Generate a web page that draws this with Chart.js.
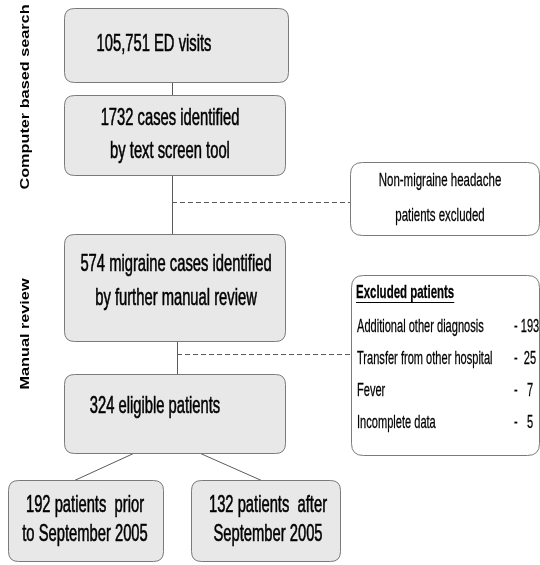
<!DOCTYPE html>
<html>
<head>
<meta charset="utf-8">
<script src="https://cdn.jsdelivr.net/npm/chart.js@4/dist/chart.umd.min.js"></script>
<style>
html,body{margin:0;padding:0;background:#fff;}
#wrap{width:540px;height:565px;}
</style>
</head>
<body>
<div id="wrap"><canvas id="c" width="540" height="565"></canvas></div>
<script>
// ---- data ----
const boxLabels = [
  ["105,751 ED visits"],
  ["1732 cases identified", "by text screen tool"],
  ["574 migraine cases identified", "by further manual review"],
  ["324 eligible patients"],
  ["192 patients  prior", "to September 2005"],
  ["132 patients  after", "September 2005"]
];
const boxLeft   = [64, 64, 64, 64, 8, 191];
const boxRight  = [288, 285, 285, 285, 163, 340];
const boxTop    = [8, 95, 234, 374, 480, 480];
const boxBottom = [82, 175, 341, 453, 561, 561];
const textX     = [154, 170, 176, 155, 85, 268];
const textY     = [[45], [119, 152], [265, 299], [407], [506, 535], [506, 535]];

const sideBoxLabels = ["Non-migraine headache", "patients excluded"];
const sideBox = [350, 539, 162, 235];
const sideTextY = [181, 216];

const exclTitle = "Excluded patients";
const exclReasons = ["Additional other diagnosis", "Transfer from other hospital", "Fever", "Incomplete data"];
const exclCounts = ["- 193", "-  25", "-   7", "-   5"];
const exclBox = [351, 539, 275, 455];
const exclRowY = [327, 359, 391, 423];

const solidLines = [[172, 82, 172, 95], [172, 175, 172, 234], [177, 341, 177, 374], [133, 453, 74, 480], [200, 453, 261, 480]];
const dashedLines = [[172, 202, 350, 202], [177, 354, 351, 354]];

const sideLabels = ["Computer based search", "Manual review"];
const sideLabelY = [97, 334];

// ---- drawing ----
const SANS = '"Liberation Sans", Arial, sans-serif';
const SX = 0.82, SY = 1.3;

function rr(ctx, x0, y0, x1, y1, r) {
  ctx.beginPath();
  ctx.moveTo(x0 + r, y0);
  ctx.lineTo(x1 - r, y0);
  ctx.quadraticCurveTo(x1, y0, x1, y0 + r);
  ctx.lineTo(x1, y1 - r);
  ctx.quadraticCurveTo(x1, y1, x1 - r, y1);
  ctx.lineTo(x0 + r, y1);
  ctx.quadraticCurveTo(x0, y1, x0, y1 - r);
  ctx.lineTo(x0, y0 + r);
  ctx.quadraticCurveTo(x0, y0, x0 + r, y0);
  ctx.closePath();
}
function stext(ctx, t, x, y, sx, sy, sw) {
  ctx.save();
  ctx.translate(x, y);
  ctx.scale(sx, sy);
  ctx.fillText(t, 0, 0);
  if (sw) {
    ctx.lineWidth = sw;
    ctx.strokeStyle = ctx.fillStyle;
    ctx.strokeText(t, 0, 0);
  }
  ctx.restore();
}

const flowPlugin = {
  id: 'flow',
  afterDatasetsDraw(chart) {
    const ctx = chart.ctx;
    const X = v => chart.scales.x.getPixelForValue(v);
    const Y = v => chart.scales.y.getPixelForValue(v);
    ctx.save();
    // connectors
    ctx.strokeStyle = '#5a5a5a';
    ctx.lineWidth = 1;
    solidLines.forEach(l => {
      ctx.beginPath();
      ctx.moveTo(X(l[0]) + 0.5, Y(l[1]) + 0.5);
      ctx.lineTo(X(l[2]) + 0.5, Y(l[3]) + 0.5);
      ctx.stroke();
    });
    ctx.setLineDash([5, 3]);
    dashedLines.forEach(l => {
      ctx.beginPath();
      ctx.moveTo(X(l[0]), Y(l[1]) + 0.5);
      ctx.lineTo(X(l[2]), Y(l[3]) + 0.5);
      ctx.stroke();
    });
    ctx.setLineDash([]);
    // main boxes
    boxLabels.forEach((lines, i) => {
      ctx.lineWidth = 1;
      rr(ctx, X(boxLeft[i]) + 0.5, Y(boxTop[i]) + 0.5, X(boxRight[i]) + 0.5, Y(boxBottom[i]) + 0.5, 10);
      ctx.fillStyle = '#e8e8e8';
      ctx.fill();
      ctx.strokeStyle = '#7a7a7a';
      ctx.stroke();
      ctx.fillStyle = '#000';
      ctx.font = '18px ' + SANS;
      ctx.textAlign = 'center';
      ctx.textBaseline = 'middle';
      lines.forEach((t, j) => stext(ctx, t, X(textX[i]), Y(textY[i][j]), SX, SY, 0.45));
    });
    // side boxes
    ctx.lineWidth = 1;
    [sideBox, exclBox].forEach(b => {
      rr(ctx, X(b[0]) + 0.5, Y(b[2]) + 0.5, X(b[1]) + 0.5, Y(b[3]) + 0.5, 12);
      ctx.fillStyle = '#fff';
      ctx.fill();
      ctx.strokeStyle = '#7a7a7a';
      ctx.stroke();
    });
    ctx.fillStyle = '#000';
    ctx.font = '14px ' + SANS;
    ctx.textAlign = 'center';
    sideBoxLabels.forEach((t, i) => stext(ctx, t, X(440), Y(sideTextY[i]), SX, SY, 0.2));
    // excluded list
    ctx.textAlign = 'left';
    ctx.font = 'bold 14px ' + SANS;
    stext(ctx, exclTitle, X(356), Y(293), SX, SY, 0.2);
    const tw = ctx.measureText(exclTitle).width * SX;
    ctx.beginPath();
    ctx.lineWidth = 1;
    ctx.moveTo(X(356), Y(302) + 0.5);
    ctx.lineTo(X(356) + tw, Y(302) + 0.5);
    ctx.strokeStyle = '#000';
    ctx.stroke();
    ctx.font = '13.5px ' + SANS;
    exclReasons.forEach((t, i) => {
      stext(ctx, t, X(357), Y(exclRowY[i]), SX, SY, 0.2);
      stext(ctx, exclCounts[i], X(514), Y(exclRowY[i]), SX, SY, 0.2);
    });
    // rotated phase labels
    ctx.font = 'bold 13px ' + SANS;
    ctx.textAlign = 'center';
    sideLabels.forEach((t, i) => {
      ctx.save();
      ctx.translate(X(25), Y(sideLabelY[i]));
      ctx.rotate(-Math.PI / 2);
      ctx.scale(1.25, 1);
      ctx.fillText(t, 0, 0);
      ctx.restore();
    });
    ctx.restore();
  }
};

const centers = boxLabels.map((_, i) => ({x: (boxLeft[i] + boxRight[i]) / 2, y: (boxTop[i] + boxBottom[i]) / 2}));

new Chart(document.getElementById('c'), {
  type: 'scatter',
  data: { datasets: [{ data: centers, pointRadius: 0, pointHoverRadius: 0 }] },
  options: {
    responsive: false,
    animation: false,
    devicePixelRatio: 1,
    layout: { padding: 0 },
    plugins: { legend: { display: false }, tooltip: { enabled: false } },
    events: [],
    scales: {
      x: { type: 'linear', min: 0, max: 540, display: false },
      y: { type: 'linear', min: 0, max: 565, reverse: true, display: false }
    }
  },
  plugins: [flowPlugin]
});
</script>
</body>
</html>
